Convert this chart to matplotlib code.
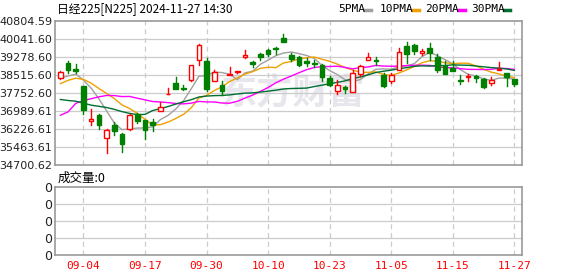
import matplotlib
matplotlib.use("Agg")
import matplotlib.pyplot as plt
from matplotlib.lines import Line2D
from matplotlib.patches import Rectangle
import numpy as np

# trading days shown (Aug 30 .. Nov 27, 2024)
dates = ["08-30",
         "09-02", "09-03", "09-04", "09-05", "09-06", "09-09", "09-10", "09-11", "09-12", "09-13",
         "09-17", "09-18", "09-19", "09-20", "09-24", "09-25", "09-26", "09-27", "09-30",
         "10-01", "10-02", "10-03", "10-04", "10-07", "10-08", "10-09", "10-10", "10-11",
         "10-15", "10-16", "10-17", "10-18", "10-21", "10-22", "10-23", "10-24", "10-25",
         "10-28", "10-29", "10-30", "10-31", "11-01",
         "11-05", "11-06", "11-07", "11-08", "11-11", "11-12", "11-13", "11-14", "11-15",
         "11-18", "11-19", "11-20", "11-21", "11-22", "11-25", "11-26", "11-27"]
tick_labels = ["09-04", "09-17", "09-30", "10-10", "10-23", "11-05", "11-15", "11-27"]
price_ticks = [34700.62, 35463.61, 36226.61, 36989.61, 37752.60,
               38515.60, 39278.60, 40041.60, 40804.59]

opens = [38402, 39024, 38770, 38049, 36551, 36820, 35845, 36382, 36014, 36226,
         36848, 36594, 36509, 36975, 37700, 38176, 37978, 38289, 39137, 39123,
         38247, 38106, 38501, 38630, 39264, 39067, 39420, 39589, 39660, 40084,
         39377, 39264, 39123, 39024, 38953, 38388, 37823, 37993, 37795, 38558,
         39137, 39137, 38530, 38275, 38742, 39731, 39773, 39462, 39660, 39264,
         38911, 38812, 38290, 38416, 38459, 38346, 38176, 38713, 38600, 38346]
highs = [38671, 39123, 38982, 38060, 37088, 36876, 36226, 36523, 36057, 36848,
         36905, 36620, 36650, 37370, 37964, 38445, 38106, 38950, 39829, 39236,
         38742, 38247, 38855, 38700, 39575, 39123, 39462, 39632, 39688, 40268,
         39462, 39307, 39236, 39137, 38996, 38459, 38318, 38064, 38742, 38954,
         39448, 39264, 38600, 38600, 39660, 39914, 39830, 39618, 39872, 39405,
         39123, 39095, 38530, 38558, 38530, 38388, 38417, 39081, 38600, 38346]
lows = [38360, 38600, 38600, 36876, 36382, 36240, 35223, 35986, 35251, 36198,
        36481, 35817, 36127, 36975, 37690, 37936, 37894, 38270, 38953, 37823,
        38247, 37682, 38501, 38580, 39236, 38840, 39165, 39335, 39420, 39914,
        39095, 38883, 38911, 38855, 38247, 38035, 37710, 37753, 37795, 38459,
        39137, 38925, 38000, 38176, 38742, 39024, 39420, 39349, 39166, 38629,
        38572, 38671, 38148, 38275, 38219, 37965, 38106, 38713, 38035, 38035]
closes = [38643, 38742, 38700, 37046, 36650, 36410, 36170, 36156, 35605, 36820,
          36580, 36198, 36380, 37145, 37724, 37936, 37908, 38925, 39801, 37922,
          38628, 37823, 38558, 38671, 39349, 38996, 39293, 39420, 39617, 39914,
          39208, 38953, 39024, 38996, 38431, 38106, 38106, 37936, 38600, 38883,
          39264, 39095, 38035, 38501, 39476, 39420, 39547, 39519, 39448, 38742,
          38572, 38671, 38275, 38459, 38374, 38007, 38303, 38784, 38431, 38148]

ma5 = [38380, 38474, 38553, 38299, 37956, 37510, 36995, 36486, 36198, 36232,
       36266, 36272, 36317, 36625, 36805, 37077, 37419, 37928, 38459, 38498,
       38637, 38620, 38546, 38320, 38606, 38679, 38973, 39146, 39335, 39448,
       39490, 39422, 39343, 39219, 38922, 38702, 38533, 38315, 38236, 38326,
       38558, 38756, 38775, 38756, 38874, 38905, 38996, 39293, 39482, 39335,
       39166, 38990, 38742, 38544, 38470, 38357, 38284, 38385, 38380, 38335]
ma10 = [38150, 38290, 38380, 38330, 38170, 37945, 37735, 37520, 37249, 37094,
        36888, 36634, 36402, 36412, 36519, 36672, 36846, 37123, 37542, 37652,
        37857, 38020, 38237, 38390, 38552, 38658, 38797, 38846, 38828, 39027,
        39085, 39198, 39245, 39277, 39185, 39096, 38978, 38829, 38728, 38624,
        38630, 38645, 38545, 38496, 38600, 38732, 38876, 39034, 39119, 39105,
        39036, 38993, 39018, 39013, 38903, 38762, 38637, 38564, 38462, 38403]
ma20 = [36810, 36952, 37314, 37433, 37511, 37590, 37647, 37643, 37601, 37606,
        37532, 37462, 37391, 37371, 37345, 37309, 37291, 37322, 37396, 37373,
        37373, 37327, 37320, 37401, 37536, 37665, 37822, 37985, 38185, 38340,
        38471, 38609, 38741, 38834, 38869, 38877, 38888, 38838, 38778, 38826,
        38858, 38922, 38895, 38887, 38893, 38914, 38927, 38932, 38924, 38865,
        38833, 38819, 38782, 38755, 38752, 38747, 38757, 38799, 38791, 38754]
ma30 = [37479, 37435, 37405, 37320, 37237, 37188, 37138, 37061, 36964, 36888,
        36836, 36846, 37010, 37092, 37180, 37284, 37380, 37470, 37582, 37622,
        37641, 37648, 37673, 37711, 37747, 37758, 37793, 37830, 37873, 37924,
        37943, 37951, 37961, 38026, 38085, 38142, 38207, 38266, 38366, 38434,
        38524, 38621, 38676, 38721, 38779, 38829, 38884, 38903, 38892, 38919,
        38917, 38945, 38936, 38929, 38896, 38863, 38830, 38809, 38770, 38711]

ma_names = ["5PMA", "10PMA", "20PMA", "30PMA"]
ma_colors = ["#a0a0a0", "#f0a000", "#ff00ff", "#006e32"]

W, H = 578, 276
fig = plt.figure(figsize=(W / 100, H / 100), dpi=100)
cjk = ["Noto Sans CJK SC", "DejaVu Sans"]

def box(l, t, r, b):
    return [l / W, 1 - b / H, (r - l) / W, (b - t) / H]

ax = fig.add_axes(box(55, 21, 522, 165))
axv = fig.add_axes(box(55, 187, 522, 255))

x = np.arange(len(dates))
tick_pos = [dates.index(d) for d in tick_labels]

for a in (ax, axv):
    a.set_xlim(-0.7, len(dates))
    for s in a.spines.values():
        s.set_color("#999999")
        s.set_linewidth(1.2)
    for p in tick_pos:
        a.axvline(p, color="#cccccc", lw=0.9, ls=(0, (4, 3)), zorder=0)
    a.tick_params(length=0, pad=2)

# watermark
ax.text(0.51, 0.5, "东方财富", transform=ax.transAxes, ha="center", va="center",
        fontsize=26, fontweight="bold", color="#e6e6ec", family=cjk, zorder=0,
        style="italic")

# price grid
ax.set_ylim(price_ticks[0], price_ticks[-1])
ax.set_yticks(price_ticks)
ax.set_yticklabels(["%.2f" % v for v in price_ticks], fontsize=8, color="#222222")
for v in price_ticks[1:-1]:
    ax.axhline(v, color="#cccccc", lw=0.9, zorder=0)
ax.set_xticks([])

# moving averages
for vals, c in zip([ma5, ma10, ma20, ma30], ma_colors):
    ax.plot(x, vals, color=c, lw=1.0, zorder=2)

# candles
bw = 0.6
for i in x:
    o, h, l, c = opens[i], highs[i], lows[i], closes[i]
    up = c >= o
    col = "#ff0000" if up else "#008000"
    lo_b, hi_b = min(o, c), max(o, c)
    ax.plot([i, i], [hi_b, h], color=col, lw=1.0, zorder=3)
    ax.plot([i, i], [l, lo_b], color=col, lw=1.0, zorder=3)
    hgt = max(hi_b - lo_b, 25)
    ax.add_patch(Rectangle((i - bw / 2, lo_b), bw, hgt, facecolor="white" if up else col,
                           edgecolor=col, lw=1.0, zorder=4))

# volume panel
axv.set_ylim(0, 4)
axv.set_yticks(range(5))
axv.set_yticklabels(["0"] * 5, fontsize=9, color="#222222")
for v in range(1, 4):
    axv.axhline(v, color="#cccccc", lw=0.9, zorder=0)
axv.set_xticks(tick_pos)
axv.set_xticklabels(tick_labels, color="red", fontsize=8, family="DejaVu Sans Mono")
axv.tick_params(axis="x", pad=4)

fig.text(58 / W, 1 - 178 / H, "成交量:0", fontsize=9, family=cjk, va="center", ha="left")
fig.text(57 / W, 1 - 9 / H, "日经225[N225] 2024-11-27 14:30", fontsize=8.5, family=cjk,
         va="center", ha="left")

# legend
leg_x = [338, 380, 425, 471]
mark_x = [368, 416, 462, 507]
for name, c, tx, mx in zip(ma_names, ma_colors, leg_x, mark_x):
    fig.text(tx / W, 1 - 9 / H, name, fontsize=8, family="DejaVu Sans Mono", va="center", ha="left")
    fig.add_artist(Line2D([(mx - 3) / W, (mx + 3) / W], [1 - 9.5 / H, 1 - 9.5 / H],
                          color=c, lw=2.5, transform=fig.transFigure))

fig.savefig("out.png", dpi=100)
